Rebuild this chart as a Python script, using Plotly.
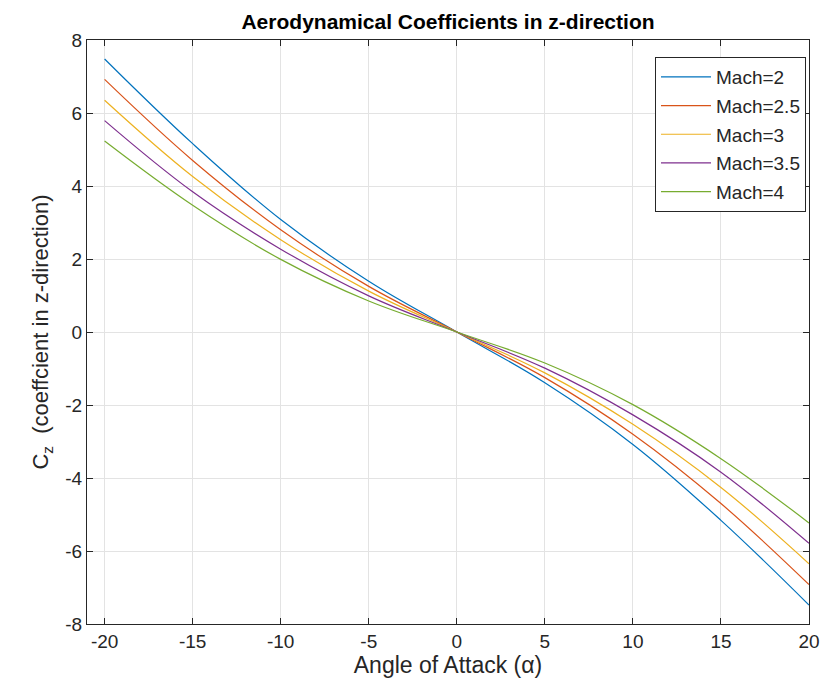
import plotly.graph_objects as go

alpha = [-20, -15, -10, -5, 0, 5, 10, 15, 20]
mach_labels = ["Mach=2", "Mach=2.5", "Mach=3", "Mach=3.5", "Mach=4"]
cz_mach2 = [7.48, 5.16, 3.08, 1.39, 0.0, -1.39, -3.08, -5.16, -7.48]
cz_mach25 = [6.92, 4.70, 2.80, 1.25, 0.0, -1.25, -2.80, -4.70, -6.92]
cz_mach3 = [6.35, 4.26, 2.53, 1.12, 0.0, -1.12, -2.53, -4.26, -6.35]
cz_mach35 = [5.79, 3.84, 2.27, 0.99, 0.0, -0.99, -2.27, -3.84, -5.79]
cz_mach4 = [5.23, 3.47, 1.99, 0.85, 0.0, -0.85, -1.99, -3.47, -5.23]
series = [cz_mach2, cz_mach25, cz_mach3, cz_mach35, cz_mach4]
colors = ["#0072BD", "#D95319", "#EDB120", "#7E2F8E", "#77AC30"]

x_ticks = [-20, -15, -10, -5, 0, 5, 10, 15, 20]
y_ticks = [-8, -6, -4, -2, 0, 2, 4, 6, 8]

W, H = 824, 696
ml, mr, mt, mb = 87, 15, 40, 72
FONT = "Liberation Sans, Arial, sans-serif"

fig = go.Figure()
for i, (lab, ys, c) in enumerate(zip(mach_labels, series, colors)):
    fig.add_trace(go.Scatter(
        x=alpha, y=ys, mode="lines", name=lab,
        line=dict(color=c, width=1.2, shape="spline", smoothing=1.1),
        legendgroup=f"g{i}",
    ))

axis_common = dict(
    showline=True, linecolor="#262626", linewidth=1, mirror="ticks",
    ticks="inside", ticklen=6, tickcolor="#262626",
    showgrid=True, gridcolor="#e3e3e3", gridwidth=1,
    zeroline=False, automargin=False,
    tickfont=dict(family=FONT, size=19, color="#262626"),
)

fig.update_xaxes(
    range=[-21, 20], tickvals=x_ticks, ticktext=[str(v) for v in x_ticks],
    title=dict(text="Angle of Attack (\u03b1)", standoff=6,
               font=dict(family=FONT, size=23, color="#262626")),
    **axis_common,
)
fig.update_yaxes(
    range=[-8, 8], tickvals=y_ticks, ticktext=[str(v) for v in y_ticks],
    title=dict(text="C<sub>z</sub>  (coeffcient in z-direction)", standoff=10,
               font=dict(family=FONT, size=22, color="#262626")),
    **axis_common,
)

fig.update_layout(
    width=W, height=H,
    margin=dict(l=ml, r=mr, t=mt, b=mb, autoexpand=False),
    paper_bgcolor="white", plot_bgcolor="white",
    title=dict(text="<b>Aerodynamical Coefficients in z-direction</b>",
               x=(ml + (W - mr)) / 2 / W, xanchor="center",
               y=1 - 22 / H, yanchor="middle", yref="container",
               font=dict(family=FONT, size=21, color="black")),
    legend=dict(
        x=1 - 3 / (W - ml - mr), xanchor="right",
        y=1 - 17 / (H - mt - mb), yanchor="top",
        bgcolor="white", bordercolor="#262626", borderwidth=1,
        font=dict(family=FONT, size=19, color="#262626"),
        tracegroupgap=1, itemwidth=50,
    ),
    showlegend=True,
)

fig.write_html("out.html")
